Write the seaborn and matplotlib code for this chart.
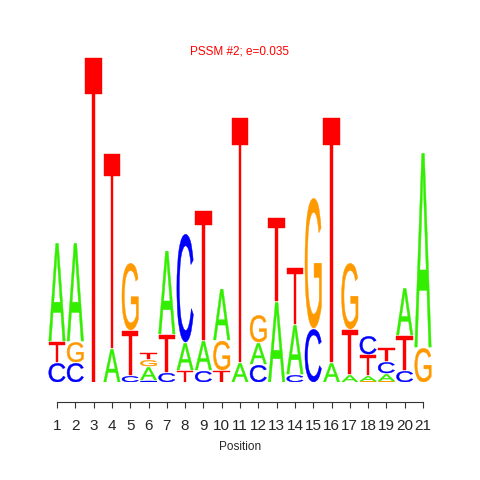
import matplotlib
matplotlib.use("Agg")
import matplotlib.pyplot as plt
import seaborn as sns
from matplotlib.font_manager import FontProperties
from matplotlib.patches import PathPatch
from matplotlib.textpath import TextPath
from matplotlib.transforms import Affine2D

# --- logo data: letters of each column from bottom to top, with their heights (bits)
positions = list(range(1, 22))
stack_letters = ["CTA", "CGA", "T", "AT", "CTG", "CAGT", "CTA", "TAC", "CAT", "TGA", "AT",
                 "CAG", "AT", "CAT", "CG", "AT", "ATG", "GATC", "GACT", "CTA", "GA"]
stack_heights = [
    [0.123, 0.129, 0.609],
    [0.123, 0.129, 0.609],
    [2.0],
    [0.209, 1.2],
    [0.043, 0.277, 0.418],
    [0.012, 0.086, 0.043, 0.043],
    [0.062, 0.234, 0.517],
    [0.074, 0.172, 0.671],
    [0.074, 0.185, 0.8],
    [0.074, 0.185, 0.32],
    [0.123, 1.508],
    [0.111, 0.135, 0.172],
    [0.498, 0.517],
    [0.049, 0.308, 0.351],
    [0.332, 0.806],
    [0.123, 1.508],
    [0.049, 0.277, 0.412],
    [0.006, 0.037, 0.129, 0.117],
    [0.006, 0.049, 0.074, 0.086],
    [0.074, 0.215, 0.295],
    [0.215, 1.2],
]
title = "PSSM #2; e=0.035"
colors = {"A": "#33ee00", "C": "#0000ff", "G": "#ff9900", "T": "#ff0000"}

sns.set_theme(style="white")
plt.rcParams["font.family"] = ["Liberation Sans", "DejaVu Sans"]

glyph_font = FontProperties(family="Liberation Sans", weight="normal")


def draw_letter(ax, letter, x, y0, height, width=0.9, gap=0.008):
    path = TextPath((0, 0), letter, size=1, prop=glyph_font)
    ext = path.get_extents()
    h = max(height - gap, height * 0.5)
    tr = (Affine2D()
          .translate(-ext.x0, -ext.y0)
          .scale(width / ext.width, h / ext.height)
          .translate(x - width / 2, y0))
    ax.add_patch(PathPatch(tr.transform_path(path), facecolor=colors[letter],
                           edgecolor=colors[letter], linewidth=0.3))


fig = plt.figure(figsize=(4.8, 4.8), dpi=100)
ax = fig.add_axes([47.85 / 480, 98 / 480, 384.3 / 480, 357.5 / 480])

for pos, letters, heights in zip(positions, stack_letters, stack_heights):
    y = 0
    for letter, h in zip(letters, heights):
        draw_letter(ax, letter, pos, y, h)
        y += h

ax.set_xlim(0.5, 21.5)
ax.set_ylim(0, 2.2)
ax.set_xticks(positions)
ax.set_xticklabels([str(p) for p in positions], fontsize=7.7)
ax.set_yticks([])
for side in ["top", "right", "left"]:
    ax.spines[side].set_visible(False)
ax.spines["bottom"].set_position(("outward", 14.4))
ax.spines["bottom"].set_bounds(1, 21)
ax.spines["bottom"].set_color("#333333")
ax.spines["bottom"].set_linewidth(0.8)
ax.tick_params(axis="x", bottom=True, length=4.5, width=0.8, color="#333333", pad=7.5)
ax.set_xlabel("Position", fontsize=8.5, labelpad=6)
ax.patch.set_alpha(0)

fig.text(0.5, 1 - 52 / 480, title, color="red", fontsize=8.5, ha="center", va="center")

fig.savefig("out.png", dpi=100, facecolor="white")
